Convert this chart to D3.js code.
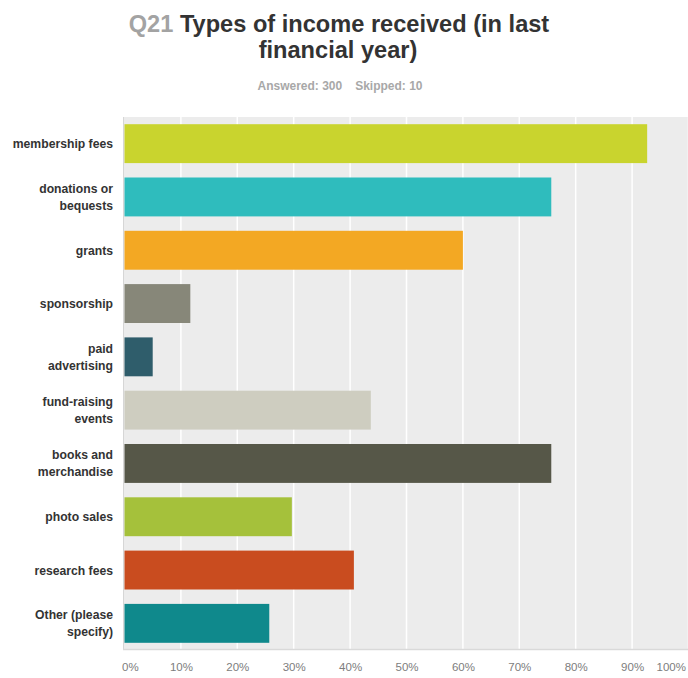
<!DOCTYPE html>
<html>
<head>
<meta charset="utf-8">
<script src="https://cdn.jsdelivr.net/npm/d3@7/dist/d3.min.js"></script>
<style>
  html, body { margin: 0; padding: 0; background: #ffffff; }
  svg { display: block; }
</style>
</head>
<body>
<svg id="chart" width="688" height="678"></svg>
<script>
// Survey question Q21: share of respondents reporting each income type
const categories = [
  ["membership fees"],
  ["donations or", "bequests"],
  ["grants"],
  ["sponsorship"],
  ["paid", "advertising"],
  ["fund-raising", "events"],
  ["books and", "merchandise"],
  ["photo sales"],
  ["research fees"],
  ["Other (please", "specify)"]
];
const percentages = [92.67, 75.67, 60.0, 11.67, 5.0, 43.67, 75.67, 29.67, 40.67, 25.67];
const barColors = ["#c9d42e", "#2fbcbd", "#f3a823", "#878779", "#2f5d6b",
                   "#cecdc0", "#565748", "#a5c13b", "#c94c1f", "#0f898c"];
const tickValues = [0, 10, 20, 30, 40, 50, 60, 70, 80, 90, 100];
const tickLabels = ["0%", "10%", "20%", "30%", "40%", "50%", "60%", "70%", "80%", "90%", "100%"];
const questionId = "Q21";
const titleLines = ["Types of income received (in last", "financial year)"];
const answered = 300, skipped = 10;

const svg = d3.select("#chart");
const font = "'Liberation Sans', Arial, Helvetica, sans-serif";

const plot = { left: 124.5, right: 688.5, top: 117, bottom: 650 };

const x = d3.scaleLinear().domain([0, 100]).range([plot.left, plot.right]);
const y = d3.scaleBand()
  .domain(d3.range(categories.length))
  .range([plot.top, plot.bottom])
  .paddingInner(0.27)
  .paddingOuter(0.135);

// Title
const title = svg.append("text")
  .attr("x", 339).attr("y", 32)
  .attr("text-anchor", "middle")
  .style("font-family", font).style("font-size", "23.6px").style("font-weight", "bold");
title.append("tspan").attr("fill", "#a3a3a3").text(questionId + " ");
title.append("tspan").attr("fill", "#333333").text(titleLines[0]);

svg.append("text")
  .attr("x", 338).attr("y", 58)
  .attr("text-anchor", "middle")
  .attr("fill", "#333333")
  .style("font-family", font).style("font-size", "23.6px").style("font-weight", "bold")
  .text(titleLines[1]);

// Response counts
const sub = svg.append("text")
  .attr("x", 340).attr("y", 90)
  .attr("text-anchor", "middle")
  .attr("fill", "#a8a8a8")
  .style("font-family", font).style("font-size", "12px").style("font-weight", "bold");
sub.append("tspan").text("Answered: " + answered);
sub.append("tspan").attr("dx", 13).text("Skipped: " + skipped);

// Plot background
svg.append("rect")
  .attr("x", plot.left - 1.5).attr("y", plot.top)
  .attr("width", plot.right - plot.left + 1.5).attr("height", plot.bottom - plot.top)
  .attr("fill", "#ececec");

// Vertical gridlines
svg.append("g").selectAll("line")
  .data(tickValues.slice(1))
  .join("line")
  .attr("x1", d => x(d)).attr("x2", d => x(d))
  .attr("y1", plot.top).attr("y2", plot.bottom)
  .attr("stroke", "#ffffff").attr("stroke-width", 1.5);

// Left and bottom edges
svg.append("line")
  .attr("x1", plot.left - 1).attr("x2", plot.left - 1)
  .attr("y1", plot.top).attr("y2", plot.bottom)
  .attr("stroke", "#d6d6d6").attr("stroke-width", 1);
svg.append("line")
  .attr("x1", plot.left - 1.5).attr("x2", plot.right)
  .attr("y1", plot.bottom - 0.5).attr("y2", plot.bottom - 0.5)
  .attr("stroke", "#d9d9d9").attr("stroke-width", 1.5);

// Bars
svg.append("g").selectAll("rect")
  .data(percentages)
  .join("rect")
  .attr("x", x(0))
  .attr("y", (d, i) => y(i))
  .attr("width", d => x(d) - x(0))
  .attr("height", y.bandwidth())
  .attr("fill", (d, i) => barColors[i]);

// Category labels
const catG = svg.append("g");
categories.forEach((lines, i) => {
  const cy = y(i) + y.bandwidth() / 2;
  const lh = 17;
  const t = catG.append("text")
    .attr("text-anchor", "end")
    .attr("fill", "#333333")
    .style("font-family", font).style("font-size", "12.2px").style("font-weight", "bold");
  lines.forEach((ln, j) => {
    t.append("tspan")
      .attr("x", 113)
      .attr("y", cy + 4.5 + (j - (lines.length - 1) / 2) * lh)
      .text(ln);
  });
});

// Percentage axis labels
const xAxis = d3.axisBottom(x)
  .tickValues(tickValues)
  .tickFormat((d, i) => tickLabels[i])
  .tickSize(0)
  .tickPadding(0);
const axisG = svg.append("g")
  .attr("transform", `translate(0, ${plot.bottom + 13})`)
  .call(xAxis);
axisG.select(".domain").remove();
axisG.selectAll("text")
  .attr("fill", "#7d7d7d")
  .style("font-family", font).style("font-size", "11.5px")
  .attr("text-anchor", (d, i) => i === 0 ? "start" : (i === tickValues.length - 1 ? "end" : "middle"))
  .attr("dx", (d, i) => i === 0 ? -3 : (i === tickValues.length - 1 ? -3 : 0));
</script>
</body>
</html>
